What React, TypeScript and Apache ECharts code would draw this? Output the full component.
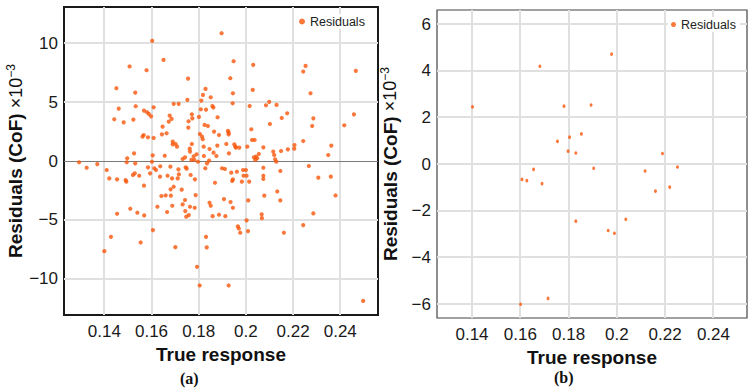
import React, { useEffect, useRef } from "react";
import * as echarts from "echarts";

// ---------- Data (a) ----------
const xTicksA = [0.14, 0.16, 0.18, 0.2, 0.22, 0.24];
const yTicksA = [-10, -5, 0, 5, 10];
const trueResponseA: number[] = [
  0.1293, 0.1325, 0.137, 0.141, 0.1421, 0.1442, 0.1451, 0.1454, 0.1461, 0.1482,
  0.149, 0.1493, 0.1497, 0.1495, 0.1507, 0.1521, 0.1523, 0.1526, 0.1531, 0.1533,
  0.1529, 0.1531, 0.1548, 0.1562, 0.1568, 0.1567, 0.1568, 0.1579, 0.1581, 0.1585,
  0.1589, 0.1598, 0.1585, 0.1594, 0.1603, 0.1609, 0.1609, 0.1605, 0.1602, 0.1612,
  0.1619, 0.1636, 0.1647, 0.1651, 0.1644, 0.1656, 0.1664, 0.1668, 0.1673, 0.1677,
  0.168, 0.1685, 0.169, 0.1694, 0.169, 0.1687, 0.1694, 0.1702, 0.1708, 0.1714,
  0.1715, 0.1711, 0.1716, 0.1732, 0.1742, 0.1745, 0.1749, 0.1752, 0.1755, 0.1756,
  0.1757, 0.1762, 0.1763, 0.1769, 0.1771, 0.1773, 0.1771, 0.1766, 0.1779, 0.1781,
  0.1784, 0.1791, 0.1797, 0.1801, 0.1805, 0.1809, 0.1811, 0.1814, 0.1818, 0.1817,
  0.1821, 0.1822, 0.1825, 0.1829, 0.1831, 0.1835, 0.1839, 0.1844, 0.1846, 0.1851,
  0.1858, 0.1862, 0.1863, 0.1865, 0.1869, 0.1875, 0.1879, 0.188, 0.1886, 0.1897,
  0.1899, 0.1911, 0.1917, 0.1924, 0.1927, 0.1928, 0.1927, 0.1934, 0.1938, 0.1942,
  0.1944, 0.1945, 0.1945, 0.1948, 0.1951, 0.1955, 0.1958, 0.1962, 0.1972, 0.1983,
  0.1988, 0.199, 0.2, 0.2003, 0.2006, 0.2014, 0.2016, 0.2023, 0.2026, 0.2029,
  0.2031, 0.2034, 0.2037, 0.204, 0.2043, 0.2048, 0.2055, 0.2074, 0.2074, 0.2074,
  0.2074, 0.2085, 0.2099, 0.2102, 0.2116, 0.212, 0.2124, 0.2129, 0.213, 0.2146,
  0.2149, 0.2152, 0.2175, 0.2178, 0.2206, 0.2205, 0.2243, 0.2243, 0.2253, 0.2267,
  0.2274, 0.2281, 0.2286, 0.2307, 0.2349, 0.2362, 0.236, 0.2417, 0.2458, 0.2466,
  // lower region
  0.1642, 0.166, 0.1682, 0.1681, 0.1728, 0.1787, 0.1742, 0.1732, 0.1625, 0.1688,
  0.1666, 0.1743, 0.1763, 0.1783, 0.1747, 0.1758, 0.151, 0.154, 0.1569, 0.1454,
  0.1428, 0.14, 0.1554, 0.1606, 0.1701, 0.1793, 0.1804, 0.1831, 0.1834, 0.1907,
  0.1846, 0.1851, 0.1859, 0.1886, 0.1913, 0.1935, 0.1945, 0.1927, 0.1966, 0.197,
  0.1976, 0.2003, 0.2009, 0.201, 0.2067, 0.2068, 0.2078, 0.2133, 0.2146, 0.2161,
  0.2243, 0.2286, 0.238, 0.2497, 0.1637, 0.1828,
];
const residualsA: number[] = [
  -0.11, -0.57, -0.26, -0.77, -1.48, 3.55, 6.19, -1.56, 4.46, 3.29,
  -1.62, -1.76, 0.23, -0.11, 8.04, -1.19, 3.52, 0.65, 5.82, 4.66,
  -1.05, -0.2, -1.25, 2.07, 4.29, 2.21, -2.1, 7.72, 4.15, 2.02,
  4.0, 3.8, -0.54, -1.05, 10.22, 4.57, 1.96, 0.48, -0.06, -0.62,
  -0.77, -1.33, 2.92, 8.6, 2.27, 0.45, 2.36, -1.25, 3.35, 3.86,
  -0.48, 3.58, 1.65, 4.86, 1.42, -1.48, -2.19, 1.45, 1.22, -0.71,
  4.86, -1.48, -1.14, 0.17, 0.31, -0.54, -0.65, 5.2, 7.01, 2.84,
  3.38, 1.05, 0.8, 0.09, 3.97, 3.63, 1.45, -1.19, 0.4, 0.09,
  -1.56, 0.57, -0.06, 3.75, 2.3, 4.4, 5.14, 2.07, 5.62, 1.85,
  1.22, 0.43, 3.07, 6.13, 4.37, -0.2, 2.98, 0.03, 1.02, 5.42,
  4.68, 4.55, 0.71, 2.5, -1.85, 0.43, 1.31, 3.72, 2.21, 10.87,
  -0.62, -0.68, 1.45, 2.56, 2.27, 0.65, 2.41, 7.04, -0.99, -1.7,
  4.91, 5.76, -1.56, 8.49, 1.42, 1.22, 1.14, -0.91, 1.14, -1.76,
  -0.77, -1.25, -0.77, -1.25, 1.22, -1.76, 4.68, 2.7, 1.79, 6.05,
  8.18, 0.31, 1.79, 0.09, 0.37, 0.23, 0.6, 1.16, -1.25, -1.53,
  -0.57, 4.74, 5.03, 3.15, 0.8, 0.51, 0.14, -0.06, 4.77, -0.85,
  0.85, 3.66, 4.06, 0.99, 1.36, 1.05, 1.7, 7.61, 8.09, -0.43,
  5.76, 2.98, 3.63, -1.42, 0.51, 1.31, -1.33, 3.04, 3.97, 7.67,
  // lower region
  -2.98, -2.93, -2.95, -2.41, -2.44, -2.9, -3.32, -3.69, -3.89, -3.81,
  -4.34, -4.26, -3.89, -3.98, -4.74, -4.6, -4.06, -4.4, -4.63, -4.49,
  -6.45, -7.67, -6.93, -5.88, -7.33, -9.0, -10.59, -6.45, -7.35, -3.24,
  -3.55, -3.81, -4.69, -4.57, -4.69, -3.49, -3.98, -10.59, -5.56, -5.74,
  -6.1, -5.05, -5.96, -3.35, -4.54, -4.86, -2.95, -2.59, -3.35, -6.1,
  -5.45, -4.46, -2.93, -11.9, -0.45, -0.62,
];

// ---------- Data (b) ----------
const xTicksB = [0.14, 0.16, 0.18, 0.2, 0.22, 0.24];
const yTicksB = [-6, -4, -2, 0, 2, 4, 6];
const trueResponseB: number[] = [
  0.1402, 0.1681, 0.1978, 0.1781, 0.1893, 0.1754, 0.1804, 0.1853, 0.1798, 0.183,
  0.1904, 0.1655, 0.1607, 0.1627, 0.169, 0.2117, 0.2189, 0.2251, 0.216, 0.2219,
  0.183, 0.1964, 0.199, 0.2037, 0.1601, 0.1715,
];
const residualsB: number[] = [
  2.45, 4.19, 4.71, 2.48, 2.53, 0.97, 1.15, 1.29, 0.55, 0.47,
  -0.18, -0.23, -0.66, -0.71, -0.84, -0.3, 0.45, -0.13, -1.16, -0.99,
  -2.45, -2.85, -2.97, -2.37, -6.01, -5.76,
];

const SERIES_NAME = "Residuals";
const DOT = "#f9560a";
const FONT = "'Liberation Sans', Arial, sans-serif";
const GRIDLINE = "#e0e0e0";

const fmt = (v: number) => (v < 0 ? "\u2212" + Math.abs(v) : String(v));

function bottomX(gridIndex: number, min: number, max: number, ticks: number[], nameGap: number) {
  return {
    type: "value",
    gridIndex,
    position: "bottom",
    min,
    max,
    name: "True response",
    nameLocation: "middle",
    nameGap,
    nameTextStyle: { fontFamily: FONT, fontSize: 19, fontWeight: "bold", color: "#111" },
    axisLine: { show: false, onZero: false },
    axisTick: { show: true, inside: true, length: 3, customValues: ticks, lineStyle: { color: "#555" } },
    axisLabel: {
      show: true,
      customValues: ticks,
      formatter: (v: number) => fmt(v),
      fontFamily: FONT,
      fontSize: 17,
      color: "#1a1a1a",
      margin: 8,
    },
    splitLine: { show: false },
  };
}
function topX(gridIndex: number, min: number, max: number, ticks: number[]) {
  return {
    type: "value",
    gridIndex,
    position: "top",
    min,
    max,
    axisLine: { show: false, onZero: false },
    axisTick: { show: true, inside: true, length: 3, customValues: ticks, lineStyle: { color: "#555" } },
    axisLabel: { show: false },
    splitLine: { show: false },
  };
}
function leftY(gridIndex: number, min: number, max: number, ticks: number[], nameGap: number) {
  return {
    type: "value",
    gridIndex,
    position: "left",
    min,
    max,
    name: "{b|Residuals (CoF)} {n|\u00d710}{s|\u22123}",
    nameLocation: "middle",
    nameGap,
    nameTextStyle: {
      fontFamily: FONT,
      fontSize: 19,
      color: "#111",
      rich: {
        b: { fontFamily: FONT, fontSize: 19, fontWeight: "bold", color: "#111" },
        n: { fontFamily: FONT, fontSize: 18, fontWeight: "normal", color: "#111" },
        s: { fontFamily: FONT, fontSize: 12, fontWeight: "normal", color: "#111", padding: [0, 0, 10, 0] },
      },
    },
    axisLine: { show: false, onZero: false },
    axisTick: { show: true, inside: true, length: 3, customValues: ticks, lineStyle: { color: "#555" } },
    axisLabel: {
      show: true,
      customValues: ticks,
      formatter: (v: number) => fmt(v),
      fontFamily: FONT,
      fontSize: 17,
      color: "#1a1a1a",
      margin: 6,
    },
    splitLine: { show: false },
  };
}
function rightY(gridIndex: number, min: number, max: number, ticks: number[]) {
  return {
    type: "value",
    gridIndex,
    position: "right",
    min,
    max,
    axisLine: { show: false, onZero: false },
    axisTick: { show: true, inside: true, length: 3, customValues: ticks, lineStyle: { color: "#555" } },
    axisLabel: { show: false },
    splitLine: { show: false },
  };
}

// grid lines: custom series whose items are tick values, placed via the axes' scales
function gridSeries(xAxisIndex: number, yAxisIndex: number, xTicks: number[], yTicks: number[], midX: number, zeroColor: string) {
  const items = [...xTicks.map((v) => [v, 0, 0]), ...yTicks.map((v) => [midX, v, 1])];
  return {
    type: "custom",
    xAxisIndex,
    yAxisIndex,
    silent: true,
    clip: false,
    z: 2,
    data: items,
    renderItem: (params: any, api: any) => {
      const cs = params.coordSys;
      const kind = api.value(2);
      if (kind === 0) {
        const p = api.coord([api.value(0), 0]);
        const x = Math.round(p[0]);
        return {
          type: "line",
          shape: { x1: x, y1: cs.y, x2: x, y2: cs.y + cs.height },
          style: { stroke: GRIDLINE, lineWidth: 2 },
        };
      }
      const val = api.value(1);
      const p = api.coord([midX, val]);
      const y = Math.round(p[1]);
      const isZero = val === 0 && zeroColor !== GRIDLINE;
      return {
        type: "line",
        shape: { x1: cs.x, y1: isZero ? y + 0.5 : y, x2: cs.x + cs.width, y2: isZero ? y + 0.5 : y },
        style: { stroke: isZero ? zeroColor : GRIDLINE, lineWidth: isZero ? 1 : 2 },
        z2: isZero ? 5 : 0,
      };
    },
  };
}

export default function App() {
  const ref = useRef<HTMLDivElement>(null);
  useEffect(() => {
    if (!ref.current) return;
    const chart = echarts.init(ref.current, undefined, { renderer: "svg" });
    const dataA = trueResponseA.map((x, i) => [x, residualsA[i]]);
    const dataB = trueResponseB.map((x, i) => [x, residualsB[i]]);
    chart.setOption({
      animation: false,
      backgroundColor: "#ffffff",
      grid: [
        { left: 64, top: 7, right: 377, bottom: 76, show: true, borderColor: "#1a1a1a", borderWidth: 2, backgroundColor: "transparent" },
        { left: 437, top: 10, right: 8, bottom: 73, show: true, borderColor: "#444", borderWidth: 1.2, backgroundColor: "transparent" },
      ],
      xAxis: [
        bottomX(0, 0.1229, 0.256, xTicksA, 25),
        topX(0, 0.1229, 0.256, xTicksA),
        bottomX(1, 0.1255, 0.2539, xTicksB, 25),
        topX(1, 0.1255, 0.2539, xTicksB),
      ],
      yAxis: [
        leftY(0, -13.1, 13.1, yTicksA, 36),
        rightY(0, -13.1, 13.1, yTicksA),
        leftY(1, -6.6, 6.6, yTicksB, 36),
        rightY(1, -6.6, 6.6, yTicksB),
      ],
      legend: [
        {
          data: [SERIES_NAME],
          left: 296,
          top: 14,
          padding: [1, 4, 1, 3],
          icon: "circle",
          itemWidth: 6,
          itemHeight: 6,
          backgroundColor: "#ffffff",
          textStyle: { fontFamily: FONT, fontSize: 12.5, color: "#222" },
          z: 10,
        },
        {
          data: [SERIES_NAME],
          left: 668,
          top: 17,
          padding: [1, 4, 1, 3],
          icon: "circle",
          itemWidth: 5,
          itemHeight: 5,
          backgroundColor: "#ffffff",
          textStyle: { fontFamily: FONT, fontSize: 12.5, color: "#222" },
          z: 10,
        },
      ],
      graphic: [
        {
          type: "text",
          left: 180,
          top: 370,
          style: { text: "(a)", fontFamily: "'Liberation Serif', serif", fontSize: 16, fontWeight: "bold", fill: "#111" },
        },
        {
          type: "text",
          left: 554,
          top: 369,
          style: { text: "(b)", fontFamily: "'Liberation Serif', serif", fontSize: 16, fontWeight: "bold", fill: "#111" },
        },
      ],
      series: [
        gridSeries(0, 0, xTicksA, yTicksA, 0.19, "#7a7a7a"),
        gridSeries(2, 2, xTicksB, yTicksB, 0.19, GRIDLINE),
        {
          name: SERIES_NAME,
          type: "scatter",
          xAxisIndex: 0,
          yAxisIndex: 0,
          symbol: "circle",
          symbolSize: 4.2,
          itemStyle: { color: DOT },
          data: dataA,
          z: 3,
        },
        {
          name: SERIES_NAME,
          type: "scatter",
          xAxisIndex: 2,
          yAxisIndex: 2,
          symbol: "circle",
          symbolSize: [3, 3.6],
          itemStyle: { color: DOT },
          data: dataB,
          z: 3,
        },
      ],
    });
    return () => chart.dispose();
  }, []);
  return <div ref={ref} style={{ width: 755, height: 391, position: "absolute", left: 0, top: 0 }} />;
}
